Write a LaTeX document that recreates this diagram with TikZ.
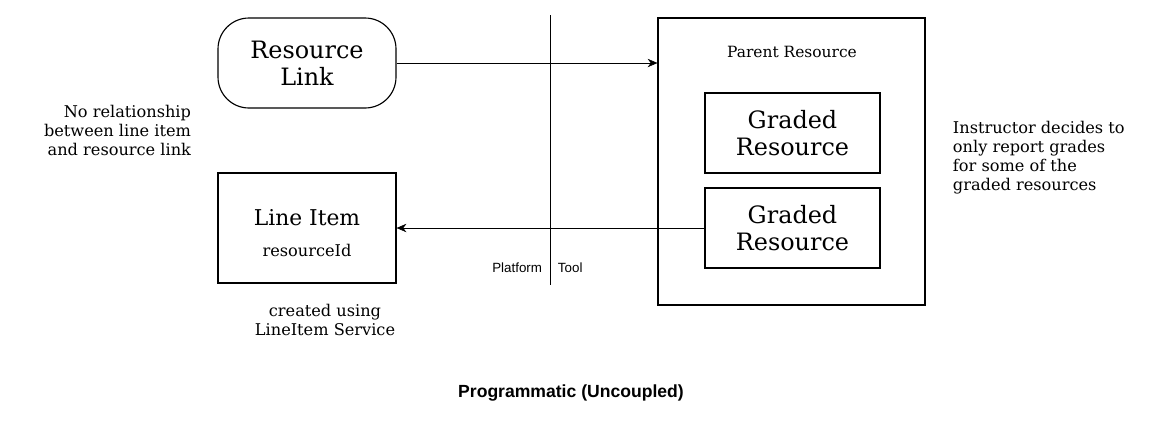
\documentclass[tikz,border=0pt]{standalone}
\usepackage{fontspec}
\setmainfont{DejaVu Serif}
\newfontfamily\sansf{Liberation Sans}
\usetikzlibrary{positioning,arrows.meta}
\tikzset{
  box/.style={draw, thick, minimum width=178*0.025cm, align=center},
  note/.style={font=\fontsize{11.5}{13.5}\selectfont, align=left},
  big/.style={font=\fontsize{17}{19.5}\selectfont},
}
\begin{document}
\begin{tikzpicture}[x=0.025cm,y=-0.025cm]
        \useasboundingbox (0,0) rectangle (1168,424);
        \node[box, big, rounded corners=22pt, minimum height=90*0.025cm] (link) at (307,63) {Resource\\Link};
        \node[box, minimum height=110*0.025cm] (item) at (307,228) {};
        \node[font=\fontsize{15.5}{18}\selectfont] (itemname) at (307,218) {Line Item};
        \node[font=\fontsize{11.5}{13}\selectfont] (rid) at (307,250) {resourceId};
        \node[draw, thick, minimum width=267*0.025cm, minimum height=287*0.025cm] (parent) at (791.5,161.5) {};
        \node[font=\fontsize{11}{12}\selectfont] (plabel) at (792,52) {Parent Resource};
        \node[box, big, minimum width=175*0.025cm, minimum height=80*0.025cm] (g1) at (792.5,133) {Graded\\Resource};
        \node[box, big, minimum width=175*0.025cm, minimum height=80*0.025cm] (g2) at (792.5,228) {Graded\\Resource};

        \coordinate (top) at (550,15);
        \coordinate (bot) at (550,285);
        \draw (top) -- (bot);
        \node[font=\sansf\fontsize{9.5}{11}\selectfont, anchor=east] (platform) at (547,268) {Platform};
        \node[font=\sansf\fontsize{9.5}{11}\selectfont, anchor=west] (tool) at (553,268) {Tool};

        \draw[-{Stealth[length=7pt,width=6pt]}] (link.east) -- (link.east -| parent.west);
        \draw[-{Stealth[length=7pt,width=6pt]}] (g2.west) -- (g2.west -| item.east);

        \node[note, align=right, anchor=east] (norel) at (196,130) {No relationship\\between line item\\and resource link};
        \node[note, align=center] (created) at (325,320) {created using\\LineItem Service};
        \node[note, anchor=west] (instr) at (948,158) {Instructor decides to\\only report grades\\for some of the\\graded resources};
        \node[font=\sansf\bfseries\fontsize{12.5}{14}\selectfont] (title) at (571,393) {Programmatic (Uncoupled)};
\end{tikzpicture}
\end{document}
